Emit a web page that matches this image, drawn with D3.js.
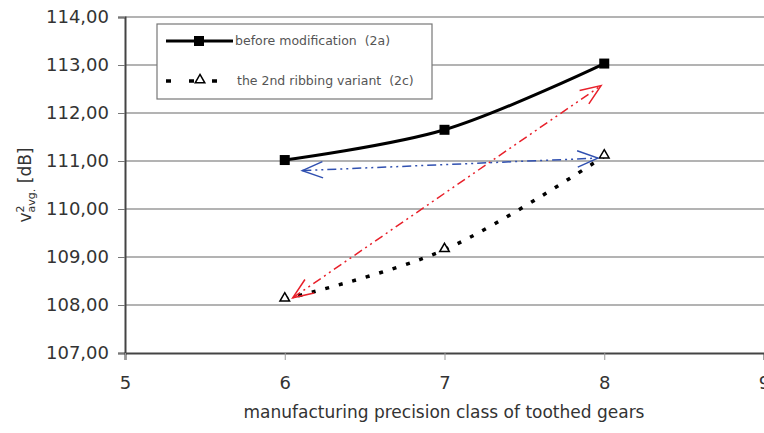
<!DOCTYPE html>
<html>
<head>
<meta charset="utf-8">
<script src="https://cdn.jsdelivr.net/npm/d3@7"></script>
<style>
  body { margin: 0; background: #fff; }
  text { font-family: "DejaVu Sans", Arial, sans-serif; white-space: pre; }
</style>
</head>
<body>
<svg id="chart" width="764" height="433"></svg>
<script>
// precision classes on the x axis
var classes = [6, 7, 8];
// v2avg [dB] before modification (2a)
var beforeMod = [111.02, 111.65, 113.03];
// v2avg [dB] for the 2nd ribbing variant (2c)
var ribbing2 = [108.12, 109.15, 111.10];
var yTicks = [107, 108, 109, 110, 111, 112, 113, 114];
var xTicks = [5, 6, 7, 8, 9];
// annotation arrows, in data units [x1, y1, x2, y2]
var redArrow = [6.05, 108.15, 7.98, 112.57];
var blueArrow = [6.11, 110.80, 7.96, 111.06];

var svg = d3.select("#chart");
var mLeft = 125, mTop = 17, mRight = 764, mBottom = 353;

var x = d3.scaleLinear().domain([5, 9]).range([mLeft, mRight]);
var y = d3.scaleLinear().domain([107, 114]).range([mBottom, mTop]);

// gridlines
svg.append("g").selectAll("line")
    .data(yTicks.slice(1))
    .enter().append("line")
    .attr("x1", mLeft).attr("x2", mRight)
    .attr("y1", function (d) { return y(d); })
    .attr("y2", function (d) { return y(d); })
    .attr("stroke", "#9a9a9a").attr("stroke-width", 1.5);

// y axis
var yAxis = d3.axisLeft(y).tickValues(yTicks).tickSize(7).tickPadding(9)
    .tickFormat(function (d) { return d3.format(".2f")(d).replace(".", ","); });
var gy = svg.append("g").attr("transform", "translate(" + mLeft + ",0)").call(yAxis);
gy.select(".domain").attr("stroke", "#444").attr("stroke-width", 2);
gy.selectAll(".tick line").attr("stroke", "#777");
gy.selectAll("text").attr("font-size", 18).attr("fill", "#333")
    .style("font-family", "DejaVu Sans");

// x axis
var xAxis = d3.axisBottom(x).tickValues(xTicks).tickSize(7).tickPadding(16)
    .tickFormat(d3.format("d"));
var gx = svg.append("g").attr("transform", "translate(0," + mBottom + ")").call(xAxis);
gx.select(".domain").attr("stroke", "#444").attr("stroke-width", 2);
gx.selectAll(".tick line").attr("stroke", "#999");
gx.selectAll("text").attr("font-size", 18).attr("fill", "#333")
    .style("font-family", "DejaVu Sans");

// axis titles
svg.append("text")
    .attr("x", 444).attr("y", 418)
    .attr("text-anchor", "middle")
    .attr("font-size", 17).attr("fill", "#333")
    .text("manufacturing precision class of toothed gears");

var yt = svg.append("text")
    .attr("transform", "translate(31,185) rotate(-90)")
    .attr("text-anchor", "middle")
    .attr("font-size", 17).attr("fill", "#333");
yt.append("tspan").text("v");
yt.append("tspan").attr("dy", -7).attr("font-size", 11).text("2");
yt.append("tspan").attr("dy", 11).attr("dx", -7).attr("font-size", 11).text("avg.");
yt.append("tspan").attr("dy", -4).text(" [dB]");

// series lines
var line = d3.line()
    .x(function (d) { return x(d[0]); })
    .y(function (d) { return y(d[1]); })
    .curve(d3.curveCatmullRom.alpha(0.5));

var ptsA = classes.map(function (c, i) { return [c, beforeMod[i]]; });
var ptsB = classes.map(function (c, i) { return [c, ribbing2[i]]; });

svg.append("path").datum(ptsA).attr("d", line)
    .attr("fill", "none").attr("stroke", "#000").attr("stroke-width", 3);
svg.append("path").datum(ptsB).attr("d", line)
    .attr("fill", "none").attr("stroke", "#000").attr("stroke-width", 3.5)
    .attr("stroke-dasharray", "4,10");

svg.append("g").selectAll("rect").data(ptsA).enter().append("rect")
    .attr("x", function (d) { return x(d[0]) - 5; })
    .attr("y", function (d) { return y(d[1]) - 5; })
    .attr("width", 10).attr("height", 10).attr("fill", "#000");

var tri = d3.symbol().type(d3.symbolTriangle).size(40);
svg.append("g").selectAll("path").data(ptsB).enter().append("path")
    .attr("d", tri)
    .attr("transform", function (d) { return "translate(" + x(d[0]) + "," + (y(d[1]) - 1) + ")"; })
    .attr("fill", "#fff").attr("stroke", "#000").attr("stroke-width", 1.5);

// double headed arrows
function arrow(a, color) {
    var x1 = x(a[0]), y1 = y(a[1]), x2 = x(a[2]), y2 = y(a[3]);
    svg.append("line")
        .attr("x1", x1).attr("y1", y1).attr("x2", x2).attr("y2", y2)
        .attr("stroke", color).attr("stroke-width", 1.5)
        .attr("stroke-dasharray", "9,4,2,4,2,4");
    var ang = Math.atan2(y2 - y1, x2 - x1);
    var len = 22, spread = 0.38;
    [[x1, y1, ang], [x2, y2, ang + Math.PI]].forEach(function (h) {
        var p = "M" + (h[0] + len * Math.cos(h[2] - spread)) + "," + (h[1] + len * Math.sin(h[2] - spread)) +
            "L" + h[0] + "," + h[1] +
            "L" + (h[0] + len * Math.cos(h[2] + spread)) + "," + (h[1] + len * Math.sin(h[2] + spread));
        svg.append("path").attr("d", p).attr("fill", "none")
            .attr("stroke", color).attr("stroke-width", 1.5);
    });
}
arrow(redArrow, "#e8202a");
arrow(blueArrow, "#3050b0");

// legend
var lg = svg.append("g");
lg.append("rect").attr("x", 157).attr("y", 24).attr("width", 275).attr("height", 75)
    .attr("fill", "#fff").attr("stroke", "#777").attr("stroke-width", 1.2);
lg.append("line").attr("x1", 166).attr("x2", 233).attr("y1", 41).attr("y2", 41)
    .attr("stroke", "#000").attr("stroke-width", 3);
lg.append("rect").attr("x", 194).attr("y", 36).attr("width", 10).attr("height", 10).attr("fill", "#000");
lg.append("line").attr("x1", 166).attr("x2", 233).attr("y1", 81).attr("y2", 81)
    .attr("stroke", "#000").attr("stroke-width", 3.5).attr("stroke-dasharray", "5,18");
lg.append("path").attr("d", tri).attr("transform", "translate(200,80)")
    .attr("fill", "#fff").attr("stroke", "#000").attr("stroke-width", 1.5);
lg.append("text").attr("x", 235).attr("y", 45).attr("font-size", 12.5).attr("fill", "#555")
    .text("before modification  (2a)");
lg.append("text").attr("x", 237).attr("y", 85).attr("font-size", 12.5).attr("fill", "#555")
    .text("the 2nd ribbing variant  (2c)");
</script>
</body>
</html>
